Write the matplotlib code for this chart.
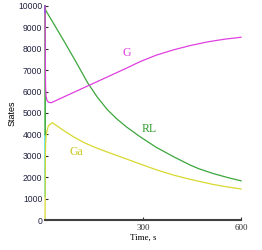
import matplotlib
matplotlib.use("Agg")
import matplotlib.pyplot as plt

# Data
t_G = [0, 0.7, 1.5, 3, 6, 11, 19, 60, 100, 130, 200, 250, 291, 340, 393, 444, 500, 550, 600]
G = [10000, 7800, 6300, 5800, 5580, 5500, 5480, 5770, 6050, 6260, 6750, 7100, 7400, 7700, 7950, 8150, 8330, 8450, 8540]

t_RL = [0, 2, 30, 58, 95, 130, 160, 191, 220, 250, 291, 340, 393, 444, 470, 515, 560, 600]
RL = [10000, 9800, 9080, 8360, 7380, 6420, 5740, 5150, 4720, 4340, 3890, 3400, 2960, 2570, 2400, 2170, 1980, 1830]

t_Ga = [0, 0.4, 1, 2, 4, 10, 22, 60, 90, 119, 150, 181, 240, 291, 340, 393, 444, 515, 560, 600]
Ga = [0, 1500, 3000, 3700, 4050, 4400, 4550, 4150, 3860, 3620, 3410, 3230, 2900, 2620, 2350, 2100, 1900, 1660, 1540, 1450]

t_R = [0, 0.3]
R = [10000, 4000]

t_L = [0, 0.3]
L = [4000, 1100]

t_B = [0, 0.2]
B = [10000, 9700]

xticks = [300, 600]
yticks = [0, 1000, 2000, 3000, 4000, 5000, 6000, 7000, 8000, 9000, 10000]

fig = plt.figure(figsize=(2.62, 2.5), dpi=100)
ax = fig.add_axes([0.172, 0.12, 0.748, 0.856])

ax.plot(t_L, L, color="#40e0e8", lw=1.2, clip_on=False)
ax.plot(t_R, R, color="#40b040", lw=1.2, clip_on=False)
ax.plot(t_B, B, color="#4060ff", lw=1.2, clip_on=False)
ax.plot(t_RL, RL, color="#3ca63c", lw=0.9, clip_on=False)
ax.plot(t_Ga, Ga, color="#d8d830", lw=0.9, clip_on=False)
ax.plot(t_G, G, color="#e040e0", lw=0.9, clip_on=False)

ax.set_xlim(0, 600)
ax.set_ylim(0, 10000)
ax.set_xticks(xticks)
ax.set_xticklabels([str(v) for v in xticks], fontfamily="Liberation Serif", fontsize=6.5)
ax.set_yticks(yticks)
ax.set_yticklabels([str(v) for v in yticks], fontfamily="Liberation Sans", fontsize=6.2)
ax.tick_params(axis="both", direction="in", length=2.5, width=0.8, pad=2, colors="#303030")
ax.tick_params(axis="y", labelcolor="#202040")
ax.tick_params(axis="x", pad=3)

for s in ["top", "right", "left"]:
    ax.spines[s].set_visible(False)
ax.spines["bottom"].set_linewidth(1.5)
ax.spines["bottom"].set_color("#404040")

ax.set_xlabel("Time, s", fontfamily="Liberation Serif", fontsize=6.5, labelpad=1)
ax.set_ylabel("States", fontfamily="Liberation Sans", fontsize=6.5, labelpad=1)

ax.text(251, 7800, "G", color="#e040e0", fontfamily="Liberation Serif", fontsize=8.5, ha="center", va="center")
ax.text(318, 4250, "RL", color="#2e9a2e", fontfamily="Liberation Serif", fontsize=8.5, ha="center", va="center")
ax.text(95, 3180, "Ga", color="#c8c820", fontfamily="Liberation Serif", fontsize=8.5, ha="center", va="center")

fig.savefig("out.png", dpi=100)
